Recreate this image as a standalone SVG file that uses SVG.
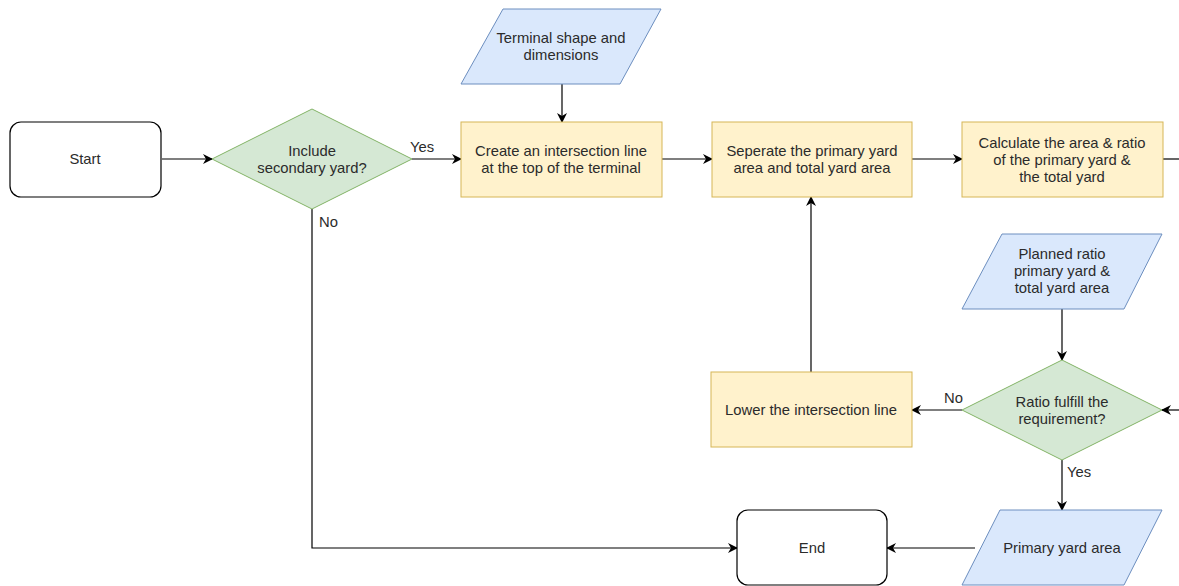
<svg xmlns="http://www.w3.org/2000/svg" width="1179" height="586" viewBox="0 0 1179 586">
  <defs>
    <marker id="arrow" viewBox="0 0 10 10" refX="9" refY="5" markerWidth="10" markerHeight="10" markerUnits="userSpaceOnUse" orient="auto">
      <path d="M0,0 L10,5 L0,10 L3,5 Z" fill="#000"/>
    </marker>
    <style>
      .term { fill: #ffffff; stroke: #000; stroke-width: 1.2; }
      .proc { fill: #fff2cc; stroke: #d6b656; stroke-width: 1; }
      .dec { fill: #d5e8d4; stroke: #82b366; stroke-width: 1; }
      .io { fill: #dae8fc; stroke: #6c8ebf; stroke-width: 1; }
      .edge { fill: none; stroke: #000; stroke-width: 1.2; }
      text { font-family: "Liberation Sans", Arial, sans-serif; font-size: 14.8px; fill: #2b2b2b; text-anchor: middle; dominant-baseline: central; }
      .lbl { text-anchor: start; }
    </style>
  </defs>
  <rect width="1179" height="586" fill="#ffffff"/>

  <g id="connectors">
    <line class="edge" x1="162" y1="159" x2="212" y2="159" marker-end="url(#arrow)"/>
    <line class="edge" x1="412" y1="159" x2="461" y2="159" marker-end="url(#arrow)"/>
    <line class="edge" x1="562" y1="84" x2="562" y2="122" marker-end="url(#arrow)"/>
    <line class="edge" x1="662" y1="159" x2="712" y2="159" marker-end="url(#arrow)"/>
    <line class="edge" x1="912" y1="159" x2="962" y2="159" marker-end="url(#arrow)"/>
    <line class="edge" x1="1163" y1="159" x2="1179" y2="159"/>
    <line class="edge" x1="1179" y1="410" x2="1162" y2="410" marker-end="url(#arrow)"/>
    <line class="edge" x1="1062" y1="309" x2="1062" y2="360" marker-end="url(#arrow)"/>
    <line class="edge" x1="962" y1="410" x2="912" y2="410" marker-end="url(#arrow)"/>
    <line class="edge" x1="811" y1="372" x2="811" y2="197" marker-end="url(#arrow)"/>
    <line class="edge" x1="1062" y1="460" x2="1062" y2="510" marker-end="url(#arrow)"/>
    <line class="edge" x1="975" y1="548" x2="887" y2="548" marker-end="url(#arrow)"/>
    <polyline class="edge" points="312,209 312,548 737,548" marker-end="url(#arrow)"/>
    <text class="lbl" x="410" y="147">Yes</text>
    <text class="lbl" x="319" y="222">No</text>
    <text class="lbl" x="944" y="398">No</text>
    <text class="lbl" x="1067" y="472">Yes</text>
  </g>

  <g id="start">
    <rect class="term" x="10" y="122" width="151" height="75" rx="11"/>
    <text x="85" y="159">Start</text>
  </g>

  <g id="include-secondary">
    <polygon class="dec" points="312,109 412,159 312,209 212,159"/>
    <text x="312" y="151">Include</text>
    <text x="312" y="168">secondary yard?</text>
  </g>

  <g id="terminal-shape">
    <polygon class="io" points="503,9 661,9 620,84 461,84"/>
    <text x="561" y="38">Terminal shape and</text>
    <text x="561" y="55">dimensions</text>
  </g>

  <g id="create-line">
    <rect class="proc" x="461" y="122" width="201" height="75"/>
    <text x="561" y="151">Create an intersection line</text>
    <text x="561" y="168">at the top of the terminal</text>
  </g>

  <g id="separate-areas">
    <rect class="proc" x="712" y="122" width="200" height="75"/>
    <text x="812" y="151">Seperate the primary yard</text>
    <text x="812" y="168">area and total yard area</text>
  </g>

  <g id="calculate-ratio">
    <rect class="proc" x="962" y="122" width="201" height="75"/>
    <text x="1062" y="143">Calculate the area &amp; ratio</text>
    <text x="1062" y="160">of the primary yard &amp;</text>
    <text x="1062" y="177">the total yard</text>
  </g>

  <g id="planned-ratio">
    <polygon class="io" points="1002,234 1162,234 1124,309 962,309"/>
    <text x="1062" y="254">Planned ratio</text>
    <text x="1062" y="271">primary yard &amp;</text>
    <text x="1062" y="288">total yard area</text>
  </g>

  <g id="ratio-check">
    <polygon class="dec" points="1062,360 1162,410 1062,460 962,410"/>
    <text x="1062" y="402">Ratio fulfill the</text>
    <text x="1062" y="419">requirement?</text>
  </g>

  <g id="lower-line">
    <rect class="proc" x="711" y="372" width="201" height="75"/>
    <text x="811" y="410">Lower the intersection line</text>
  </g>

  <g id="primary-yard">
    <polygon class="io" points="1000,510 1162,510 1124,585 962,585"/>
    <text x="1062" y="548">Primary yard area</text>
  </g>

  <g id="end">
    <rect class="term" x="737" y="510" width="150" height="75" rx="11"/>
    <text x="812" y="548">End</text>
  </g>
</svg>
